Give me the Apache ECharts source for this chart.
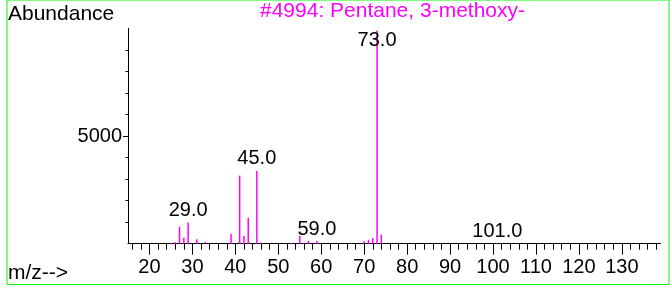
<!DOCTYPE html>
<html>
<head>
<meta charset="utf-8">
<script src="https://cdn.jsdelivr.net/npm/echarts@6/dist/echarts.min.js"></script>
<style>
  html, body { margin: 0; padding: 0; background: #fff; }
  #chart { width: 670px; height: 291px; }
</style>
</head>
<body>
<div id="chart"></div>
<script>
// peaks: m/z and abundance
const mz = [25, 26, 27, 28, 29, 31, 33, 39, 41, 42, 43, 45, 46, 53, 55, 56, 57, 59, 67, 70, 71, 72, 73, 74, 101, 102];
const abundance = [20, 65, 790, 280, 990, 205, 80, 460, 3160, 360, 1210, 3380, 40, 30, 360, 45, 125, 125, 25, 110, 185, 265, 9900, 420, 20, 25];
const labeledPeaks = [29, 45, 59, 73, 101];

const xMajorTicks = [20, 30, 40, 50, 60, 70, 80, 90, 100, 110, 120, 130];
const yMinorTicks = [1000, 2000, 3000, 4000, 6000, 7000, 8000, 9000];
const yLabelTicks = [5000];

const xMinorTicks = [];
for (let v = 16; v <= 138; v += 2) xMinorTicks.push(v);

const FONT = '"Liberation Sans", Arial, sans-serif';
const MAGENTA = '#ff00ff';

const peakData = mz.map((m, i) => {
    const item = { value: [m, abundance[i]] };
    if (labeledPeaks.includes(m)) {
        item.label = { show: true };
        // base peak: label sits inside the frame, crossed by the line
        if (m === 73) {
            item.label.position = 'insideTop';
            item.label.distance = 0;
        }
    }
    return item;
});

const chart = echarts.init(document.getElementById('chart'));

const option = {
    animation: false,
    grid: { left: 128, right: 9.5, top: 28.3, bottom: 47.3, containLabel: false },
    xAxis: [
        {
            type: 'value', min: 15, max: 139, position: 'bottom',
            axisLine: { show: true, lineStyle: { color: '#000', width: 1 } },
            axisTick: { show: true, length: 6, customValues: xMinorTicks, lineStyle: { color: '#000' } },
            axisLabel: { show: false },
            splitLine: { show: false }
        },
        {
            type: 'value', min: 15, max: 139, position: 'bottom', offset: 0,
            axisLine: { show: false },
            axisTick: { show: true, length: 11, customValues: xMajorTicks, lineStyle: { color: '#000' } },
            axisLabel: {
                show: true, customValues: xMajorTicks, margin: 14,
                color: '#000', fontSize: 20, fontFamily: FONT
            },
            splitLine: { show: false }
        }
    ],
    yAxis: [
        {
            type: 'value', min: 0, max: 10000,
            axisLine: { show: true, lineStyle: { color: '#000', width: 1 } },
            axisTick: { show: true, length: 2.5, customValues: yMinorTicks, lineStyle: { color: '#000' } },
            axisLabel: { show: false },
            splitLine: { show: false }
        },
        {
            type: 'value', min: 0, max: 10000, position: 'left', offset: 0,
            axisLine: { show: false },
            axisTick: { show: true, length: 5, customValues: yLabelTicks, lineStyle: { color: '#000' } },
            axisLabel: {
                show: true, customValues: yLabelTicks, margin: 6,
                color: '#000', fontSize: 20, fontFamily: FONT,
                formatter: (v) => String(v)
            },
            splitLine: { show: false }
        }
    ],
    series: [
        {
            type: 'bar',
            xAxisIndex: 0,
            yAxisIndex: 0,
            barWidth: 1.5,
            itemStyle: { color: MAGENTA },
            label: {
                show: false,
                position: 'top',
                distance: 2,
                color: '#000',
                fontSize: 20,
                fontFamily: FONT,
                formatter: (p) => p.value[0].toFixed(1)
            },
            data: peakData
        }
    ],
    graphic: [
        {
            type: 'rect',
            shape: { x: 7, y: 0, width: 662, height: 284.5 },
            style: { fill: 'none', stroke: '#00ff00', lineWidth: 1 },
            silent: true
        },
        {
            type: 'text', x: 8, y: 14.5,
            style: { text: 'Abundance', fill: '#000', font: '21px ' + FONT, verticalAlign: 'middle' }
        },
        {
            type: 'text', x: 392.5, y: 11.5,
            style: {
                text: '#4994: Pentane, 3-methoxy-', fill: MAGENTA, font: '21px ' + FONT,
                align: 'center', verticalAlign: 'middle'
            }
        },
        {
            type: 'text', x: 8, y: 273,
            style: { text: 'm/z-->', fill: '#000', font: '21px ' + FONT, verticalAlign: 'middle' }
        }
    ]
};

chart.setOption(option);
</script>
</body>
</html>
